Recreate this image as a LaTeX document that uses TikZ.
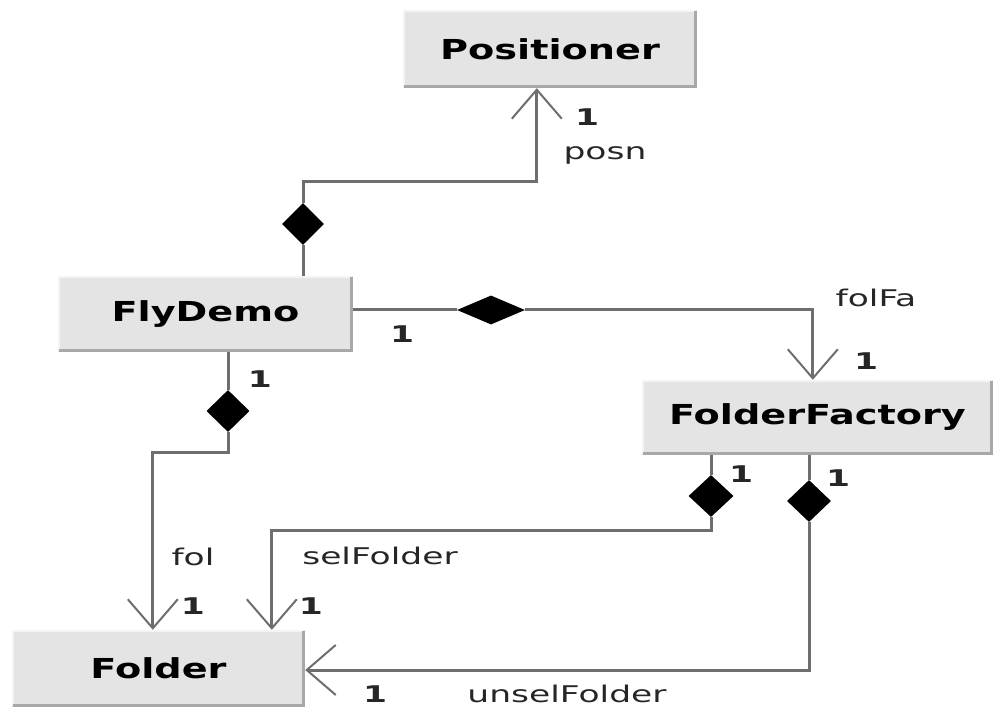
\documentclass[tikz,border=0pt]{standalone}
\usepackage{fontspec}
\usetikzlibrary{shapes.geometric,arrows.meta}
\newfontfamily\titlefont{DejaVu Sans}[FakeStretch=1.39]
\newfontfamily\labfont{DejaVu Sans}[FakeStretch=1.5]
\definecolor{boxfill}{HTML}{E4E4E4}
\definecolor{boxdark}{HTML}{A8A8A8}
\definecolor{boxlight}{HTML}{F4F4F4}
\definecolor{conncol}{HTML}{6E6E6E}
\newcommand\boxshade[1]{%
  \draw[boxlight,line width=2pt] ([shift={(1pt,1pt)}]#1.south west) -- ([shift={(1pt,-1pt)}]#1.north west) -- ([shift={(-1pt,-1pt)}]#1.north east);
  \draw[boxdark,line width=3pt] ([shift={(1.5pt,1.5pt)}]#1.south west) -- ([shift={(-1.5pt,1.5pt)}]#1.south east) -- ([shift={(-1.5pt,-1.5pt)}]#1.north east);}
\tikzset{
  classbox/.style={rectangle, fill=boxfill, inner sep=0pt, font=\titlefont\bfseries\fontsize{27.5}{30}\selectfont},
  conn/.style={draw=conncol, line width=3pt},
  compo/.style={diamond, fill=black, draw=none, inner sep=0pt},
  openarrow/.style={-{Straight Barb[length=29pt,width=50pt,line width=2pt]}},
  lab/.style={font=\labfont\fontsize{23}{26}\selectfont, text=black!85, inner sep=0pt},
  mult/.style={font=\labfont\bfseries\fontsize{23}{26}\selectfont, text=black!85, inner sep=0pt}
}
\begin{document}
\begin{tikzpicture}[x=1pt,y=-1pt]
\useasboundingbox[fill=white] (0,0) rectangle (994,708);

% class boxes
\node[classbox, minimum width=294pt, minimum height=78pt] (pos) at (550,49) {Positioner};
\boxshade{pos}
\node[classbox, minimum width=295pt, minimum height=76pt] (fly) at (205.5,314) {FlyDemo};
\boxshade{fly}
\node[classbox, minimum width=351pt, minimum height=75pt] (ff) at (817.5,417.5) {FolderFactory};
\boxshade{ff}
\node[classbox, minimum width=293pt, minimum height=77pt] (fold) at (158.5,668.5) {Folder};
\boxshade{fold}

% connection points
\coordinate (posIn) at ([xshift=134pt]pos.south west);
\coordinate (ffTop) at ([xshift=171pt]ff.north west);
\coordinate (foldTopA) at ([xshift=141pt]fold.north west);
\coordinate (foldTopB) at ([xshift=260pt]fold.north west);
\coordinate (foldRight) at ([yshift=-1.5pt]fold.east);

% composition diamonds
\node[compo, minimum width=42pt, minimum height=42pt] (dPos) at (303,224) {};
\node[compo, minimum width=68pt, minimum height=29pt] (dFf) at (491,310) {};
\node[compo, minimum width=43pt, minimum height=42pt] (dFol) at (228,411) {};
\node[compo, minimum width=45pt, minimum height=42pt] (dSel) at (711,496) {};
\node[compo, minimum width=44pt, minimum height=42pt] (dUnsel) at (809,501) {};

% connectors
\draw[conn] (dPos.south |- fly.north) -- (dPos.south);
\draw[conn, openarrow] (dPos.north) |- (posIn |- 0,182) -- (posIn);
\draw[conn] (fly.east |- dFf.west) -- (dFf.west);
\draw[conn, openarrow] (dFf.east) -| (ffTop);
\draw[conn] (dFol.north |- fly.south) -- (dFol.north);
\draw[conn, openarrow] (dFol.south) |- (foldTopA |- 0,453) -- (foldTopA);
\draw[conn] (dSel.north |- ff.south) -- (dSel.north);
\draw[conn, openarrow] (dSel.south) |- (foldTopB |- 0,531) -- (foldTopB);
\draw[conn] (dUnsel.north |- ff.south) -- (dUnsel.north);
\draw[conn, openarrow] (dUnsel.south) |- (foldRight);

% labels
\node[mult] (m1) at (587,117) {1};
\node[lab] (lposn) at (605,155) {posn};
\node[mult] (m2) at (402,334) {1};
\node[lab] (lfolfa) at (876,298) {folFa};
\node[mult] (m3) at (866,361) {1};
\node[mult] (m4) at (260,379) {1};
\node[lab] (lfol) at (193,557) {fol};
\node[mult] (m5) at (193,606) {1};
\node[lab] (lsel) at (380,556) {selFolder};
\node[mult] (m6) at (311,606) {1};
\node[mult] (m7) at (741,474) {1};
\node[mult] (m8) at (838,478) {1};
\node[mult] (m9) at (375,694) {1};
\node[lab] (lunsel) at (567,694) {unselFolder};
\end{tikzpicture}
\end{document}
